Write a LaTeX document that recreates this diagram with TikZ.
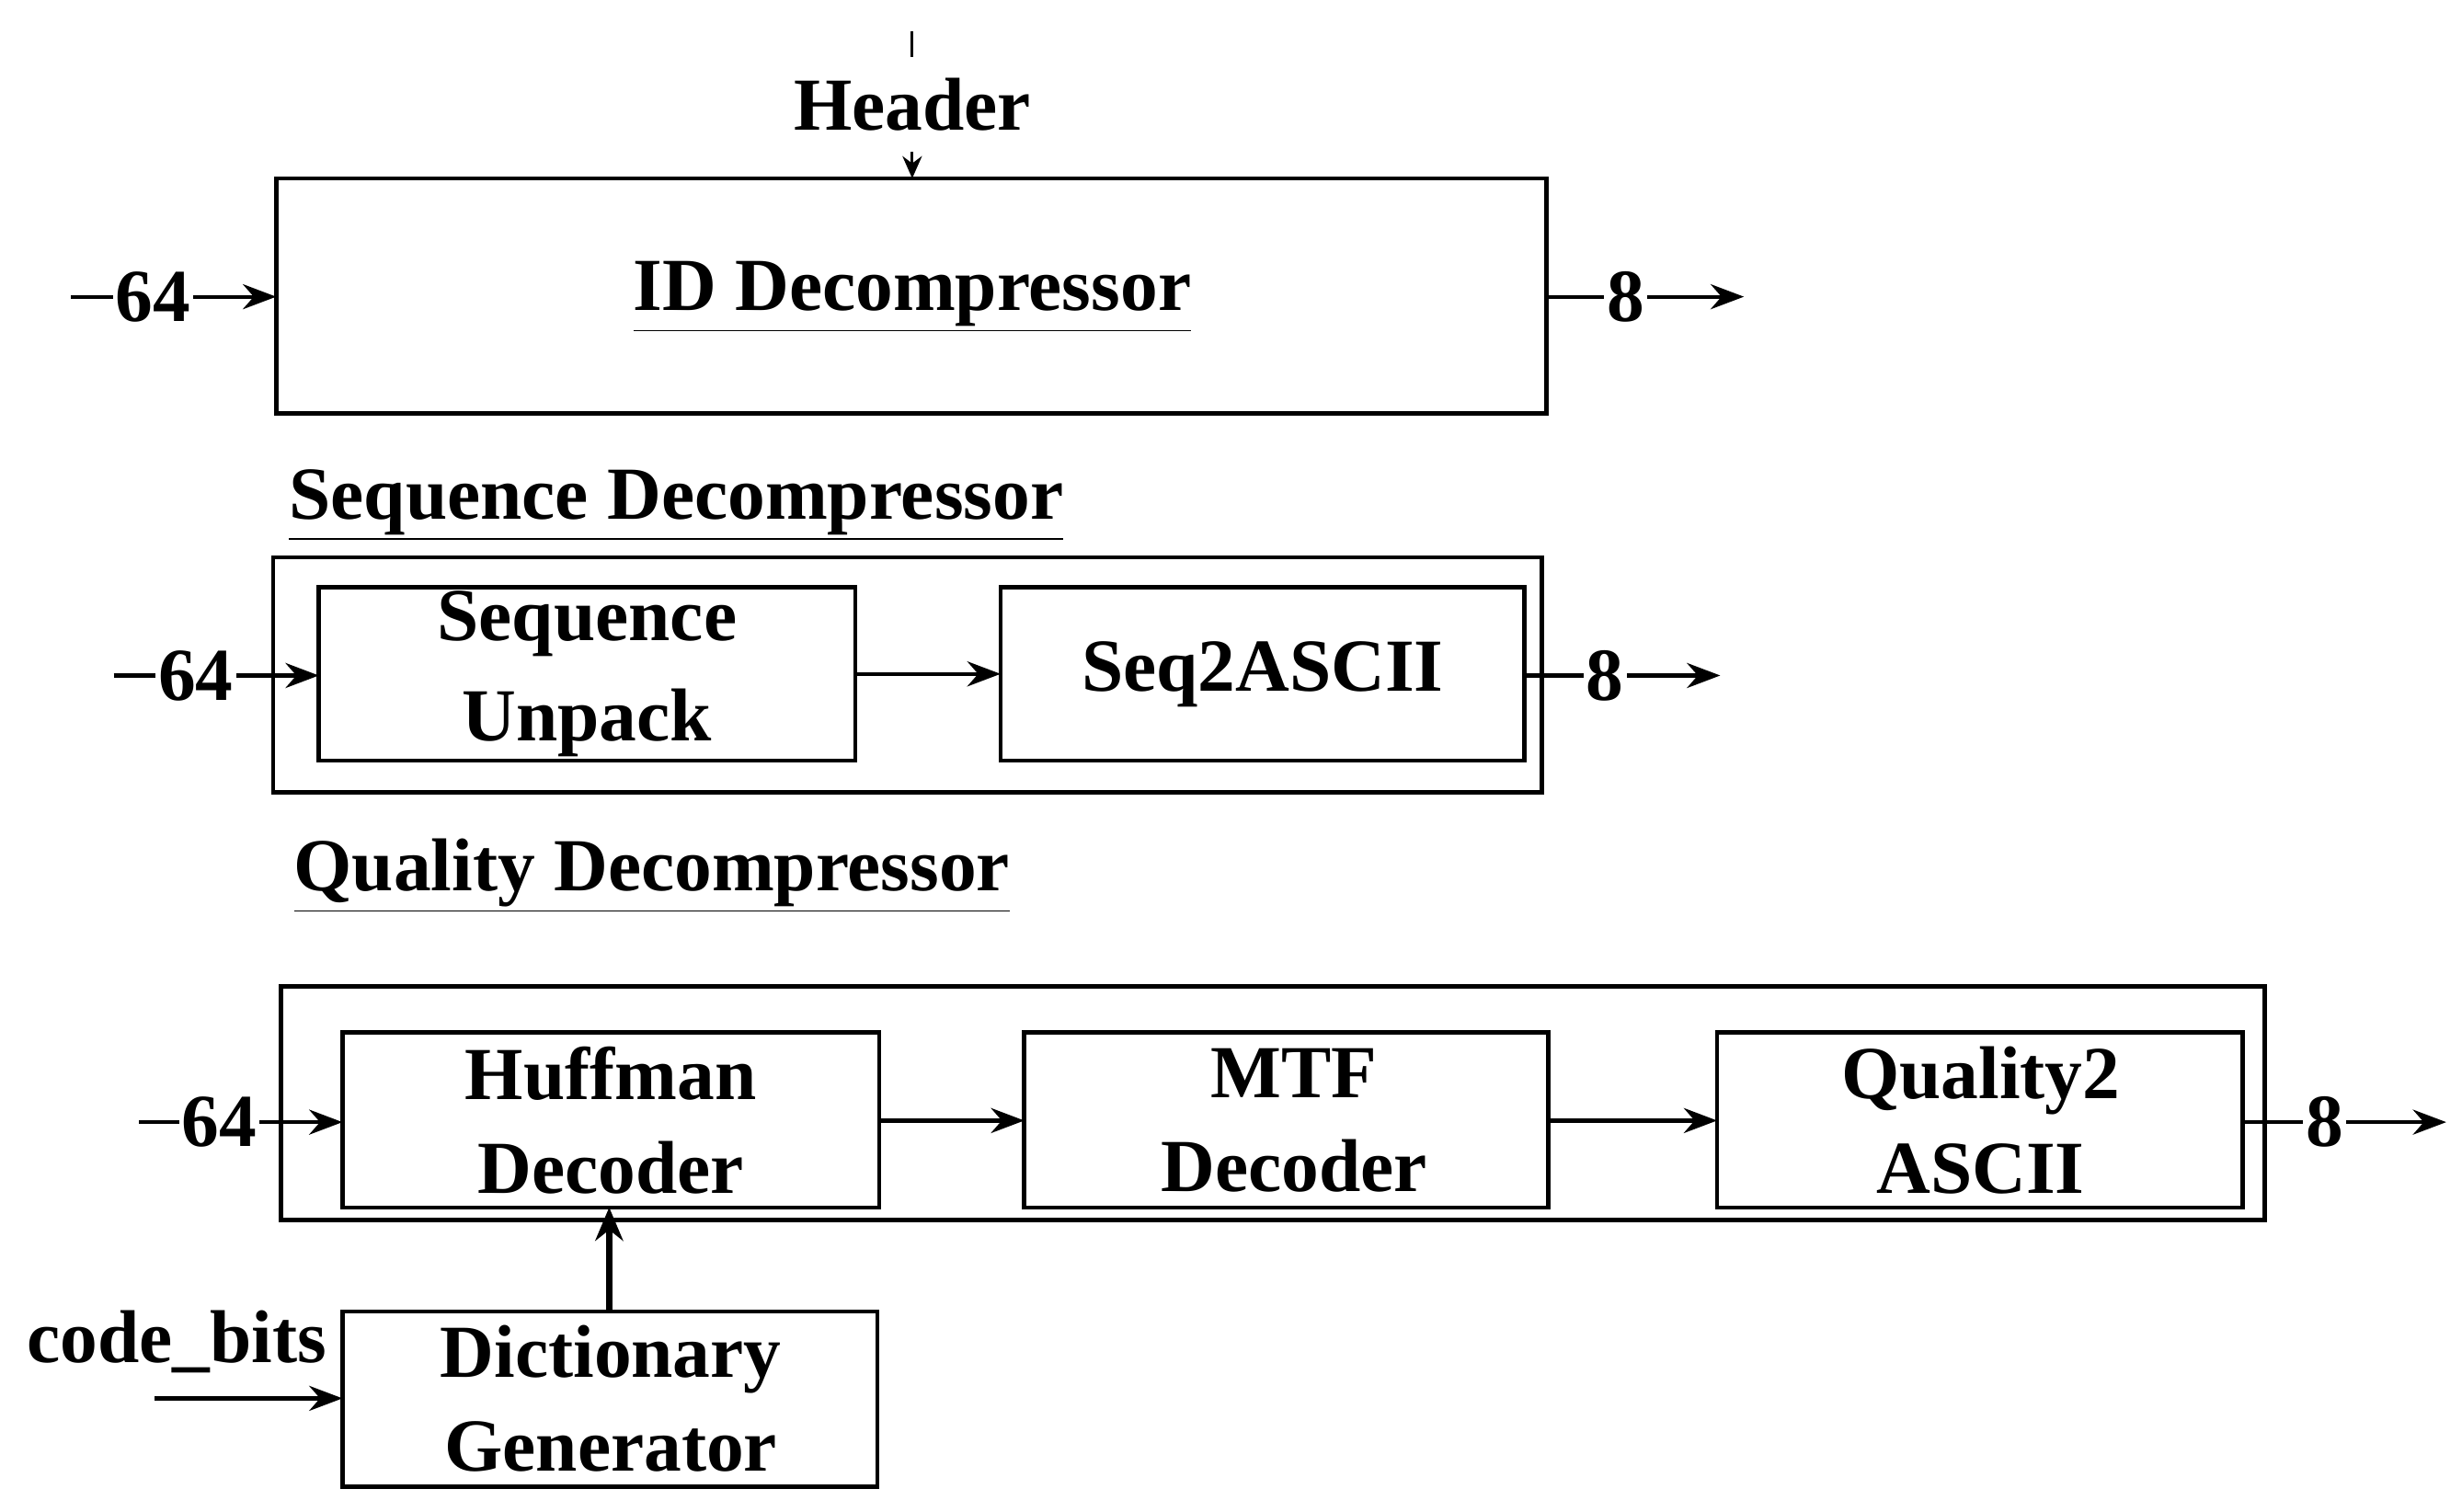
\documentclass[tikz,border=0pt]{standalone}
\usepackage{fontspec}
\setmainfont{Liberation Serif}
\usetikzlibrary{arrows.meta}
\begin{document}
\begin{tikzpicture}[x=0.02cm,y=-0.02cm,
  lab/.style={font=\fontsize{27}{30}\selectfont\bfseries},
  arr/.style={line width=1.4pt,-{Stealth[length=12pt,width=9pt]}},
  bx/.style={line width=1.5pt},
  num/.style={lab,fill=white,inner sep=1pt}]
\useasboundingbox (0,0) rectangle (1560,958);
% ID
\node[lab] (hdr) at (578,66) {Header};
\coordinate (ht) at (578,20);
\coordinate (ht2) at (578,36);
\draw[line width=1pt] (ht)--(ht2);
\draw[bx] (175,113) rectangle (980,262);
\coordinate (idtop) at (578,113);
\coordinate (hb) at (578,96);
\draw[line width=1pt,-{Stealth[length=8pt,width=7pt]}] (hb)--(idtop);
\node[lab] (idl) at (578,188) {\underline{ID Decompressor}};
\coordinate (i1) at (45,188); \coordinate (i1e) at (175,188);
\draw[arr] (i1)--(i1e); \node[num] at (97,188) {64};
\coordinate (o1) at (980,188); \coordinate (o1e) at (1105,188);
\draw[arr] (o1)--(o1e); \node[num] at (1030,188) {8};
% Sequence
\node[lab,anchor=west] (sdl) at (177,320) {\underline{Sequence Decompressor}};
\draw[bx] (173,353) rectangle (977,502);
\draw[bx] (202,372) rectangle (542,482);
\node[lab,align=center] (su) at (372,427) {Sequence\\[6pt]Unpack};
\draw[bx] (634,372) rectangle (966,482);
\node[lab] (s2a) at (800,427) {Seq2ASCII};
\coordinate (a1) at (542,427); \coordinate (a2) at (634,427);
\draw[arr] (a1)--(a2);
\coordinate (i2) at (72,428); \coordinate (i2e) at (202,428);
\draw[arr] (i2)--(i2e); \node[num] at (124,428) {64};
\coordinate (o2) at (966,428); \coordinate (o2e) at (1090,428);
\draw[arr] (o2)--(o2e); \node[num] at (1017,428) {8};
% Quality
\node[lab,anchor=west] (qdl) at (180,555) {\underline{Quality Decompressor}};
\draw[bx] (178,625) rectangle (1435,773);
\draw[bx] (217,654) rectangle (557,765);
\node[lab,align=center] (hd) at (387,710) {Huffman\\[4pt]Decoder};
\draw[bx] (649,654) rectangle (981,765);
\node[lab,align=center] (md) at (820,710) {MTF\\[4pt]Decoder};
\draw[bx] (1088,654) rectangle (1421,765);
\node[lab,align=center] (qa) at (1255,710) {Quality2\\[4pt]ASCII};
\coordinate (b1) at (557,710); \coordinate (b2) at (649,710);
\coordinate (b3) at (981,710); \coordinate (b4) at (1088,710);
\draw[arr] (b1)--(b2); \draw[arr] (b3)--(b4);
\coordinate (i3) at (88,711); \coordinate (i3e) at (217,711);
\draw[arr] (i3)--(i3e); \node[num] at (139,711) {64};
\coordinate (o3) at (1421,711); \coordinate (o3e) at (1550,711);
\draw[arr] (o3)--(o3e); \node[num] at (1473,711) {8};
% Dictionary
\draw[bx] (217,831) rectangle (556,942);
\node[lab,align=center] (dg) at (387,886) {Dictionary\\[4pt]Generator};
\coordinate (d1) at (386,831); \coordinate (d2) at (386,765);
\draw[line width=2.4pt,-{Stealth[length=12pt,width=10pt]}] (d1)--(d2);
\node[lab] (cb) at (112,850) {code\_bits};
\coordinate (c1) at (98,886); \coordinate (c2) at (217,886);
\draw[arr] (c1)--(c2);
\end{tikzpicture}
\end{document}
